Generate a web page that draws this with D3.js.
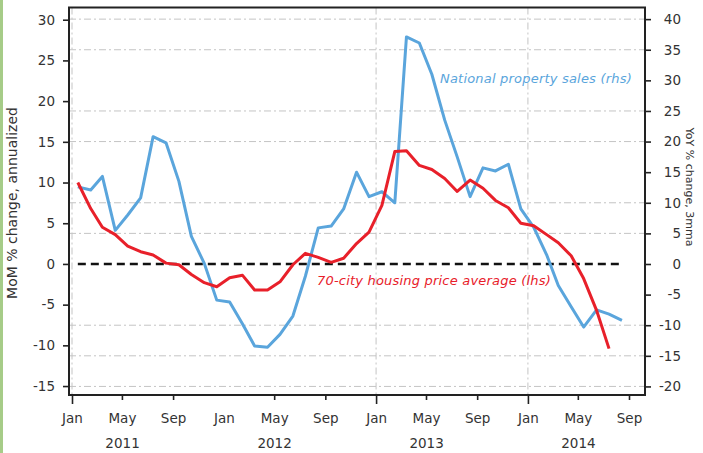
<!DOCTYPE html>
<html><head><meta charset="utf-8">
<script src="https://cdn.jsdelivr.net/npm/d3@7"></script>
<style>
body{margin:0;background:#fff;}
svg{display:block;font-family:'DejaVu Sans',sans-serif;}
</style></head>
<body>
<svg id="chart" width="703" height="453"></svg>
<script>
// ---- data ----
const startYear = 2011;
const priceMoM = [10.0, 6.8, 4.5, 3.6, 2.2, 1.5, 1.1, 0.1, -0.1, -1.3, -2.3, -2.8,
  -1.7, -1.4, -3.2, -3.2, -2.2, -0.1, 1.3, 0.8, 0.2, 0.7, 2.5, 3.9,
  7.2, 13.8, 13.9, 12.1, 11.6, 10.5, 8.9, 10.3, 9.3, 7.8, 6.9, 5.0,
  4.7, 3.6, 2.6, 1.0, -1.8, -5.7, -10.4];
const salesYoY = [12.6, 12.1, 14.3, 5.5, 8.0, 10.8, 20.8, 19.8, 13.5, 4.5, 0.1, -5.9,
  -6.2, -9.8, -13.4, -13.6, -11.5, -8.5, -2.0, 5.9, 6.2, 9.0, 15.0, 11.0,
  11.8, 10.0, 37.1, 36.1, 31.0, 23.5, 17.5, 11.0, 15.7, 15.2, 16.3, 9.0,
  6.0, 1.5, -3.5, -7.0, -10.3, -7.5, -8.2, -9.2];
const leftTicks = [-15, -10, -5, 0, 5, 10, 15, 20, 25, 30];
const rightTicks = [-20, -15, -10, -5, 0, 5, 10, 15, 20, 25, 30, 35, 40];
const gridRight = [-20, -15, -10, 5, 10, 20, 25, 35, 40];
const monthTickOffsets = d3.range(0, 45, 4); // Jan, May, Sep each year
const monthNames = ["Jan","Feb","Mar","Apr","May","Jun","Jul","Aug","Sep","Oct","Nov","Dec"];
const years = [2011, 2012, 2013, 2014];
const gridYears = [2011, 2013, 2014];
const seriesNames = ["70-city housing price average (lhs)", "National property sales (rhs)"];
const leftTitle = "MoM % change, annualized";
const rightTitle = "YoY % change, 3mma";

// ---- layout ----
const svg = d3.select("#chart");
const L = 69, R = 645, T = 7.5, B = 395;
const red = "#e8202a", blue = "#5aa5dc";
const FONT = "'DejaVu Sans', sans-serif";

svg.append("rect").attr("x",0).attr("y",0).attr("width",3).attr("height",453).attr("fill","#a6cc88");

const x = d3.scaleTime().domain([new Date(2011,0,1), new Date(2014,8,1)]).range([72, 629]);
const yL = d3.scaleLinear().domain([-16.1, 31.5]).range([B, T]);
const yR = d3.scaleLinear().domain([-21.4, 41.9]).range([B, T]);

const dateOf = m => new Date(startYear, m, 15);

// grid
const grid = svg.append("g").attr("stroke","#c4c4c4").attr("stroke-width",1).attr("stroke-dasharray","7,3,2,3").attr("fill","none");
gridRight.forEach(v => grid.append("line").attr("x1",L).attr("x2",R).attr("y1",yR(v)).attr("y2",yR(v)));
gridYears.forEach(yr => grid.append("line").attr("x1",x(new Date(yr,0,1))).attr("x2",x(new Date(yr,0,1))).attr("y1",T).attr("y2",B));

// zero line
svg.append("line").attr("x1",x(dateOf(0))).attr("x2",x(new Date(2014,7,15)))
  .attr("y1",yL(0)).attr("y2",yL(0)).attr("stroke","#111").attr("stroke-width",2.5).attr("stroke-dasharray","8,5");

// series
const lineL = d3.line().x((d,i)=>x(dateOf(i))).y(d=>yL(d));
const lineR = d3.line().x((d,i)=>x(dateOf(i))).y(d=>yR(d));
svg.append("path").datum(salesYoY).attr("d",lineR).attr("fill","none").attr("stroke",blue).attr("stroke-width",3).attr("stroke-linejoin","round");
svg.append("path").datum(priceMoM).attr("d",lineL).attr("fill","none").attr("stroke",red).attr("stroke-width",3).attr("stroke-linejoin","round");

// frame
svg.append("rect").attr("x",L).attr("y",T).attr("width",R-L).attr("height",B-T).attr("fill","none").attr("stroke","#222").attr("stroke-width",2);

// axes
const fontSize = 13.5;
const leftAxis = d3.axisLeft(yL).tickValues(leftTicks).tickSize(6).tickFormat(d=>d);
const gl = svg.append("g").attr("transform",`translate(${L},0)`).call(leftAxis);
const rightAxis = d3.axisRight(yR).tickValues(rightTicks).tickSize(6).tickFormat(d=>d);
const gr = svg.append("g").attr("transform",`translate(${R},0)`).call(rightAxis);
const tickDates = monthTickOffsets.map(m => new Date(startYear, m, 1));
const bottomAxis = d3.axisBottom(x).tickValues(tickDates).tickSize(5).tickPadding(9).tickFormat(d=>monthNames[d.getMonth()]);
const gb = svg.append("g").attr("transform",`translate(0,${B})`).call(bottomAxis);
[gl,gr,gb].forEach(g=>{
  g.attr("font-family",FONT).attr("font-size",fontSize);
  g.select(".domain").remove();
  g.selectAll(".tick line").attr("stroke","#222").attr("stroke-width",1.6);
  g.selectAll(".tick text").attr("fill","#333");
});
gb.selectAll(".tick line").attr("y2", d => d.getMonth()===0 ? (gridYears.includes(d.getFullYear()) ? 9 : 0) : 5);
gb.selectAll(".tick text").attr("y",16).attr("dy","0.9em");
gl.selectAll(".tick text").attr("x",-14);
gr.selectAll(".tick text").attr("x",36).attr("text-anchor","end");

// year labels
years.forEach(yr => {
  const cx = (x(new Date(yr,0,1)) + x(new Date(yr,8,1)))/2;
  svg.append("text").attr("x",cx).attr("y",448).attr("text-anchor","middle").attr("font-size",fontSize).attr("fill","#333").text(yr);
});

// axis titles
svg.append("text").attr("transform","translate(17,203) rotate(-90)").attr("text-anchor","middle").attr("font-size",14).attr("fill","#333").text(leftTitle);
svg.append("text").attr("transform","translate(686,187) rotate(90)").attr("text-anchor","middle").attr("font-size",11).attr("fill","#333").text(rightTitle);

// series labels
svg.append("text").attr("x",440).attr("y",83).attr("font-size",13).attr("letter-spacing",0.2).attr("font-style","italic").attr("fill",blue).text(seriesNames[1]);
svg.append("text").attr("x",317).attr("y",285).attr("font-size",13).attr("letter-spacing",0.2).attr("font-style","italic").attr("fill",red).text(seriesNames[0]);
</script>
</body></html>
